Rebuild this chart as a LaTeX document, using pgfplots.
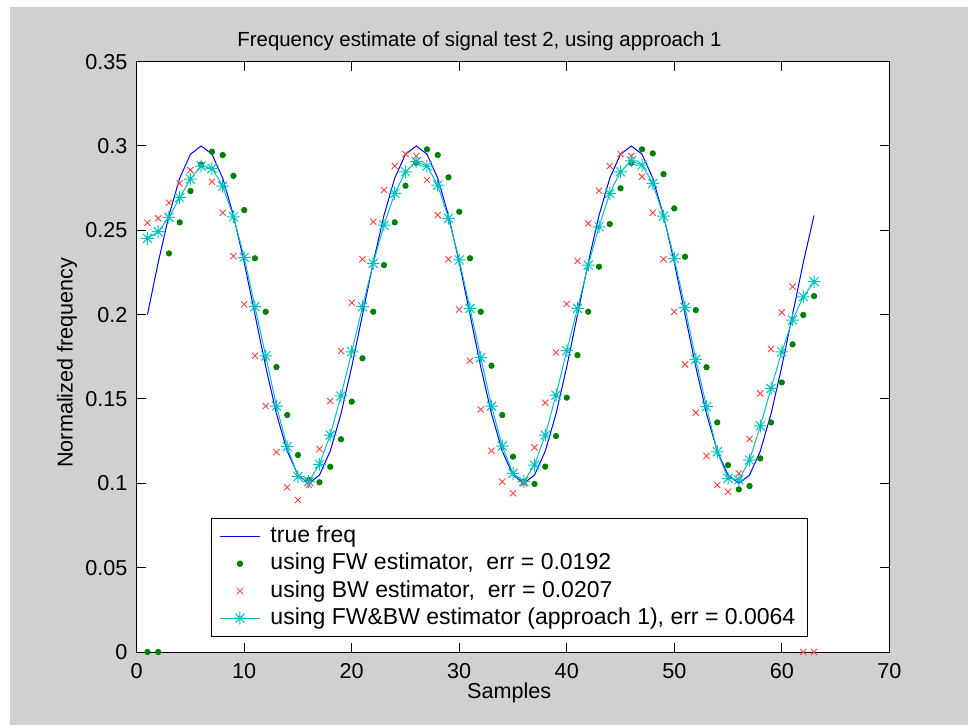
\documentclass[border=0pt]{standalone}
\usepackage{fontspec}
\setmainfont{Liberation Sans}
\usepackage{pgfplots}
\pgfplotsset{compat=1.18}
\usepackage{pgfplotstable}
\definecolor{mgreen}{rgb}{0,0.5,0}
\definecolor{mred}{rgb}{1,0.25,0.25}
\definecolor{mcyan}{rgb}{0,0.75,0.75}
\definecolor{mgray}{rgb}{0.815,0.815,0.815}
\newcommand\mf{\fontsize{10.8}{13}\selectfont}
\newcommand\lf{\fontsize{11.5}{13.6}\selectfont}
\pgfdeclareplotmark{mstar}{%
  \pgfpathmoveto{\pgfqpoint{-\pgfplotmarksize}{0pt}}\pgfpathlineto{\pgfqpoint{\pgfplotmarksize}{0pt}}%
  \pgfpathmoveto{\pgfqpoint{0pt}{-\pgfplotmarksize}}\pgfpathlineto{\pgfqpoint{0pt}{\pgfplotmarksize}}%
  \pgfpathmoveto{\pgfqpoint{-0.707\pgfplotmarksize}{-0.707\pgfplotmarksize}}\pgfpathlineto{\pgfqpoint{0.707\pgfplotmarksize}{0.707\pgfplotmarksize}}%
  \pgfpathmoveto{\pgfqpoint{-0.707\pgfplotmarksize}{0.707\pgfplotmarksize}}\pgfpathlineto{\pgfqpoint{0.707\pgfplotmarksize}{-0.707\pgfplotmarksize}}%
  \pgfusepathqstroke}

\pgfplotstableread{
n f
1 0.2
2 0.2309
3 0.2588
4 0.2809
5 0.2951
6 0.3
7 0.2951
8 0.2809
9 0.2588
10 0.2309
11 0.2
12 0.1691
13 0.1412
14 0.1191
15 0.1049
16 0.1
17 0.1049
18 0.1191
19 0.1412
20 0.1691
21 0.2
22 0.2309
23 0.2588
24 0.2809
25 0.2951
26 0.3
27 0.2951
28 0.2809
29 0.2588
30 0.2309
31 0.2
32 0.1691
33 0.1412
34 0.1191
35 0.1049
36 0.1
37 0.1049
38 0.1191
39 0.1412
40 0.1691
41 0.2
42 0.2309
43 0.2588
44 0.2809
45 0.2951
46 0.3
47 0.2951
48 0.2809
49 0.2588
50 0.2309
51 0.2
52 0.1691
53 0.1412
54 0.1191
55 0.1049
56 0.1
57 0.1049
58 0.1191
59 0.1412
60 0.1691
61 0.2
62 0.2309
63 0.2588
}\truefreq

\pgfplotstableread{
n f
1 0
2 0
3 0.2363
4 0.2547
5 0.2733
6 0.289
7 0.2966
8 0.2946
9 0.2823
10 0.262
11 0.2334
12 0.2017
13 0.1689
14 0.1405
15 0.1168
16 0.102
17 0.1006
18 0.1098
19 0.1261
20 0.1484
21 0.1741
22 0.2017
23 0.2294
24 0.2547
25 0.2764
26 0.290
27 0.298
28 0.2946
29 0.2814
30 0.261
31 0.2334
32 0.2017
33 0.1697
34 0.1405
35 0.1158
36 0.101
37 0.0996
38 0.1099
39 0.128
40 0.1508
41 0.176
42 0.2017
43 0.2284
44 0.2537
45 0.2749
46 0.290
47 0.298
48 0.2956
49 0.2833
50 0.263
51 0.2343
52 0.2027
53 0.1688
54 0.1361
55 0.1108
56 0.0964
57 0.0984
58 0.1148
59 0.1361
60 0.1598
61 0.1824
62 0.1998
63 0.211
}\fwdata

\pgfplotstableread{
n f
1 0.2545
2 0.2571
3 0.2663
4 0.2778
5 0.2857
6 0.288
7 0.2788
8 0.2604
9 0.2347
10 0.2061
11 0.1756
12 0.1458
13 0.1184
14 0.0976
15 0.0901
16 0.099
17 0.1203
18 0.1488
19 0.1784
20 0.2071
21 0.2328
22 0.2551
23 0.2739
24 0.2881
25 0.2952
26 0.294
27 0.2798
28 0.259
29 0.2328
30 0.2031
31 0.1727
32 0.1438
33 0.1193
34 0.101
35 0.0941
36 0.100
37 0.1213
38 0.1478
39 0.1776
40 0.2063
41 0.2318
42 0.2541
43 0.2735
44 0.2881
45 0.2952
46 0.294
47 0.2818
48 0.2604
49 0.2328
50 0.2017
51 0.1705
52 0.1419
53 0.1162
54 0.099
55 0.095
56 0.1059
57 0.1263
58 0.1533
59 0.1796
60 0.2013
61 0.2166
62 0
63 0
}\bwdata

\pgfplotstableread{
n f
1 0.2452
2 0.2492
3 0.2577
4 0.2693
5 0.2804
6 0.2881
7 0.2867
8 0.2762
9 0.258
10 0.234
11 0.2047
12 0.1755
13 0.1458
14 0.1217
15 0.1039
16 0.101
17 0.1113
18 0.1286
19 0.1518
20 0.178
21 0.2047
22 0.2304
23 0.2531
24 0.2719
25 0.2847
26 0.2907
27 0.2881
28 0.2768
29 0.2571
30 0.2324
31 0.2037
32 0.1745
33 0.1458
34 0.1221
35 0.1059
36 0.101
37 0.1108
38 0.1286
39 0.1523
40 0.1786
41 0.2037
42 0.2294
43 0.2521
44 0.2719
45 0.2847
46 0.2912
47 0.2887
48 0.2778
49 0.2584
50 0.2334
51 0.2043
52 0.1735
53 0.1454
54 0.1187
55 0.103
56 0.102
57 0.1138
58 0.134
59 0.1563
60 0.178
61 0.1968
62 0.2106
63 0.2195
}\fwbwdata

\begin{document}
\begin{tikzpicture}
\path[use as bounding box] (-68.35pt,-36.5pt) rectangle (415.65pt,326pt);
\fill[mgray] (-63.35pt,-36.5pt) rectangle (415.65pt,322.5pt);
\begin{axis}[
  at={(0pt,0pt)}, anchor=south west,
  scale only axis, width=376.3pt, height=295.2pt,
  xmin=0, xmax=70, ymin=0, ymax=0.35,
  xtick={0,10,20,30,40,50,60,70},
  xticklabels={0,10,20,30,40,50,60,70},
  ytick={0,0.05,0.1,0.15,0.2,0.25,0.3,0.35},
  yticklabels={0,0.05,0.1,0.15,0.2,0.25,0.3,0.35},
  scaled ticks=false,
  tick align=inside, tick pos=both,
  major tick length=4.5pt,
  axis line style={line width=0.5pt, black},
  every tick/.style={black, line width=0.5pt},
  axis background/.style={fill=white},
  clip=false,
  tick label style={font=\mf},
  x tick label style={anchor=base, yshift=-13pt},
  y tick label style={anchor=east, inner xsep=0pt, xshift=-4.5pt},
  every axis title shift=0pt,
  title={Frequency estimate of signal test 2, using approach 1},
  title style={at={(0.4555,1.0264)}, anchor=base, font=\fontsize{10.2}{12}\selectfont},
  xlabel={Samples},
  xlabel style={at={(0.495,-0.078)}, anchor=base, font=\mf},
  ylabel={Normalized frequency},
  ylabel style={at={(-0.085,0.49)}, anchor=base, font=\mf},
  legend image code/.code={\draw[mark repeat=2,mark phase=2,#1] plot coordinates {(0pt,0pt) (10pt,0pt) (20pt,0pt)};},
  legend style={at={(0.0987,0.0254)}, anchor=south west, draw=black, fill=white,
    line width=0.5pt, font=\lf, inner xsep=4pt, inner ysep=2.4pt,
    row sep=0pt, column sep=3pt,
    nodes={inner xsep=2pt, inner ysep=1.25pt, text height=8.6pt, text depth=2.5pt}},
  legend cell align=left,
]
\addplot[blue, line width=0.5pt, no marks] table[x=n,y=f]{\truefreq};
\addlegendentry{true freq}
\addplot[only marks, mark=*, color=mgreen, mark size=1.35pt] table[x=n,y=f]{\fwdata};
\addlegendentry{using FW estimator,\ \ err = 0.0192}
\addplot[only marks, mark=x, color=mred, mark size=2.2pt, line width=0.45pt] table[x=n,y=f]{\bwdata};
\addlegendentry{using BW estimator,\ \ err = 0.0207}
\addplot[color=mcyan, line width=0.5pt, mark=mstar, mark size=3.2pt] table[x=n,y=f]{\fwbwdata};
\addlegendentry{using FW\&BW estimator (approach 1), err = 0.0064\hspace{4pt}}
\end{axis}
\end{tikzpicture}
\end{document}
